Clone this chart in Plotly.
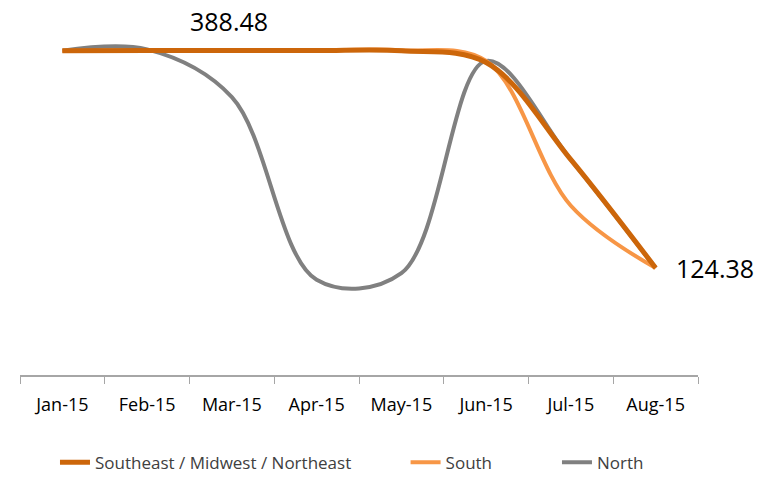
import plotly.graph_objects as go

months = ["Jan-15", "Feb-15", "Mar-15", "Apr-15", "May-15", "Jun-15", "Jul-15", "Aug-15"]
southeast = [388.48, 388.5, 388.5, 388.5, 388.2, 374.0, 256.0, 124.38]
south = [388.48, 388.5, 388.5, 388.5, 389.0, 376.0, 200.0, 124.38]
north = [388.48, 390.0, 332.0, 110.0, 118.0, 376.0, 256.0, 124.38]

fig = go.Figure()

fig.add_trace(go.Scatter(
    x=months, y=north, name="North", mode="lines",
    line=dict(color="#808080", width=4, shape="spline", smoothing=1),
    legend="legend3"
))
fig.add_trace(go.Scatter(
    x=months, y=south, name="South", mode="lines",
    line=dict(color="#F79646", width=4, shape="spline", smoothing=1),
    legend="legend2"
))
fig.add_trace(go.Scatter(
    x=months, y=southeast, name="Southeast / Midwest / Northeast", mode="lines",
    line=dict(color="#CC660A", width=5, shape="spline", smoothing=1),
    legend="legend"
))

fig.add_annotation(x=months[2], y=southeast[0], text="388.48", showarrow=False,
                   yshift=30, xshift=-3, font=dict(size=25, color="#000000"))
fig.add_annotation(x=months[-1], y=southeast[-1], text="124.38", showarrow=False,
                   xanchor="left", xshift=18, font=dict(size=25, color="#000000"))

leg_font = dict(size=17, color="#404040")
leg_common = dict(orientation="h", y=0.026, yanchor="middle", xanchor="left",
                  font=leg_font, bgcolor="rgba(0,0,0,0)")

fig.update_layout(
    width=767, height=481,
    margin=dict(l=20, r=69, t=0, b=0),
    paper_bgcolor="white", plot_bgcolor="white",
    font=dict(family="Open Sans", color="#000000"),
    showlegend=True,
    legend=dict(x=0.0516, **leg_common),
    legend2=dict(x=0.5687, **leg_common),
    legend3=dict(x=0.792, **leg_common),
    xaxis=dict(
        showgrid=False, zeroline=False, showline=True, linecolor="#A6A6A6", linewidth=1.5,
        ticks="outside", tickson="boundaries", ticklen=7, tickcolor="#A6A6A6",
        tickfont=dict(size=18), range=[-0.5, 7.5], ticklabelstandoff=12, automargin=False
    ),
    yaxis=dict(visible=False, range=[-6, 450], showgrid=False, zeroline=False,
               domain=[101 / 481, 1]),
)

fig.write_html("out.html", post_script="document.body.style.margin='0';",
               config={"displayModeBar": False})
